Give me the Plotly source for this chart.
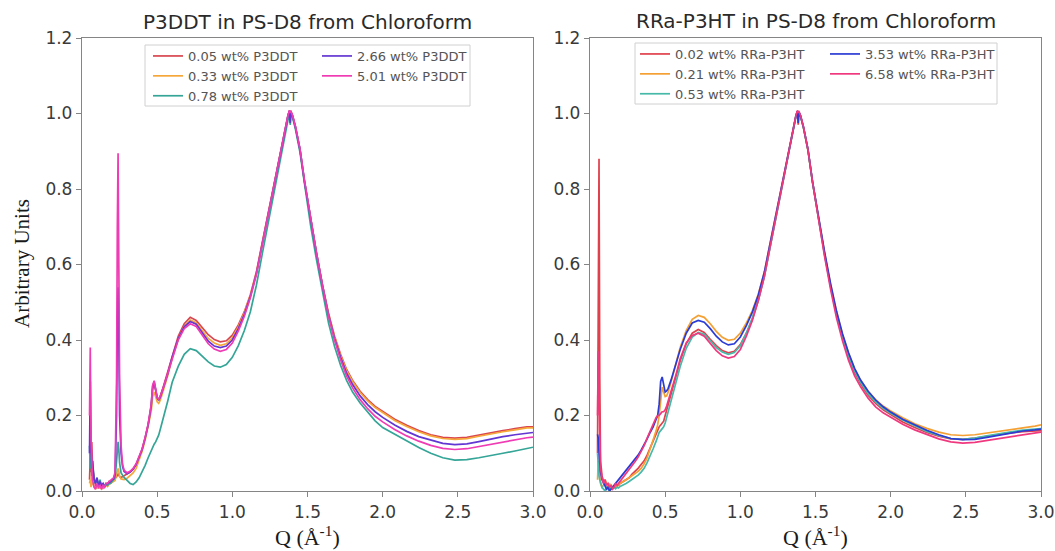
import plotly.graph_objects as go

# ---------------- data: left panel (P3DDT) ----------------
QL = [0.05, 0.055, 0.06, 0.065, 0.07,
      0.08, 0.09, 0.10, 0.11, 0.12, 0.13, 0.14, 0.15, 0.16, 0.17, 0.18, 0.19, 0.20, 0.21, 0.22,
      0.23, 0.235, 0.24, 0.245, 0.25, 0.26, 0.27, 0.28,
      0.30, 0.32, 0.34, 0.36, 0.38, 0.40, 0.42, 0.44, 0.46,
      0.47, 0.48, 0.49, 0.50, 0.51, 0.52, 0.54, 0.57, 0.60,
      0.64, 0.68, 0.72, 0.76, 0.80, 0.84, 0.88, 0.92, 0.96, 1.00,
      1.04, 1.08, 1.12, 1.16, 1.20, 1.24, 1.28, 1.32,
      1.35, 1.37, 1.38, 1.385, 1.39, 1.40, 1.42, 1.45, 1.48,
      1.52, 1.56, 1.60, 1.64, 1.68, 1.72, 1.76, 1.80,
      1.85, 1.90, 1.95, 2.00,
      2.08, 2.16, 2.24, 2.32, 2.40, 2.48, 2.56, 2.64, 2.72, 2.80, 2.88, 2.96, 3.00]

L_005 = [0.03, 0.09, 0.05, 0.13, 0.06,
         0.03, 0.015, 0.01, 0.02, 0.01, 0.015, 0.008, 0.015, 0.02, 0.018, 0.025, 0.022, 0.028, 0.03, 0.033,
         0.038, 0.042, 0.045, 0.042, 0.038, 0.036, 0.038, 0.04,
         0.045, 0.05, 0.058, 0.07, 0.088, 0.11, 0.14, 0.175, 0.22,
         0.27, 0.285, 0.268, 0.248, 0.242, 0.25, 0.275, 0.315, 0.36,
         0.41, 0.443, 0.46, 0.452, 0.432, 0.414, 0.401, 0.395, 0.398, 0.413,
         0.44, 0.475, 0.52, 0.58, 0.66, 0.74, 0.82, 0.90,
         0.955, 0.995, 1.008, 1.003, 1.005, 0.995, 0.965, 0.905, 0.82,
         0.72, 0.63, 0.545, 0.47, 0.41, 0.362, 0.322, 0.293,
         0.264, 0.242, 0.224, 0.21,
         0.19, 0.174, 0.16, 0.149, 0.142, 0.14, 0.142, 0.148, 0.155, 0.16, 0.165, 0.17, 0.17]

L_033 = [0.02, 0.03, 0.01, 0.05, 0.02,
         0.01, 0.005, 0.012, 0.008, 0.01, 0.005, 0.012, 0.01, 0.015, 0.012, 0.018, 0.02, 0.022, 0.024, 0.028,
         0.045, 0.058, 0.06, 0.052, 0.04, 0.032, 0.03, 0.03,
         0.034, 0.04, 0.048, 0.06, 0.08, 0.105, 0.135, 0.17, 0.21,
         0.25, 0.262, 0.25, 0.236, 0.232, 0.24, 0.265, 0.305, 0.352,
         0.402, 0.436, 0.453, 0.446, 0.424, 0.404, 0.392, 0.386, 0.39, 0.406,
         0.435, 0.472, 0.518, 0.578, 0.658, 0.738, 0.818, 0.898,
         0.953, 0.993, 1.006, 1.0, 1.003, 0.993, 0.963, 0.903, 0.818,
         0.718, 0.628, 0.543, 0.468, 0.408, 0.359, 0.319, 0.29,
         0.261, 0.239, 0.221, 0.207,
         0.187, 0.171, 0.157, 0.146, 0.139, 0.137, 0.139, 0.145, 0.152, 0.157, 0.162, 0.167, 0.167]

L_078 = [0.12, 0.06, 0.1, 0.04, 0.08,
         0.03, 0.02, 0.035, 0.015, 0.03, 0.01, 0.02, 0.012, 0.018, 0.015, 0.02, 0.02, 0.025, 0.028, 0.035,
         0.08, 0.12, 0.13, 0.11, 0.075, 0.048, 0.04, 0.036,
         0.028, 0.02, 0.017, 0.024, 0.035, 0.05, 0.068, 0.088, 0.108,
         0.118, 0.124, 0.13, 0.138, 0.148, 0.162, 0.19, 0.238, 0.288,
         0.33, 0.362, 0.377, 0.372, 0.357, 0.342, 0.331, 0.328, 0.335, 0.354,
         0.385, 0.425, 0.475, 0.545, 0.63, 0.715, 0.8, 0.885,
         0.948, 0.99, 1.003, 0.97, 1.0, 0.99, 0.958, 0.897, 0.81,
         0.705, 0.612, 0.523, 0.445, 0.383, 0.333, 0.293, 0.262,
         0.233, 0.208, 0.186, 0.168,
         0.15, 0.132, 0.115, 0.1, 0.088, 0.082, 0.083, 0.088, 0.095, 0.1, 0.106, 0.113, 0.116]

L_266 = [0.1, 0.29, 0.12, 0.06, 0.08,
         0.03, 0.02, 0.035, 0.01, 0.025, 0.015, 0.02, 0.01, 0.018, 0.02, 0.022, 0.025, 0.03, 0.032, 0.045,
         0.2, 0.45, 0.54, 0.4, 0.2, 0.1, 0.065, 0.052,
         0.046, 0.05, 0.058, 0.07, 0.088, 0.11, 0.14, 0.175, 0.225,
         0.278, 0.29, 0.27, 0.247, 0.24, 0.248, 0.272, 0.31, 0.355,
         0.403, 0.435, 0.449, 0.442, 0.42, 0.397, 0.384, 0.38, 0.384, 0.4,
         0.43, 0.468, 0.515, 0.576, 0.656, 0.737, 0.818, 0.898,
         0.954, 0.994, 1.007, 0.975, 1.004, 0.994, 0.964, 0.905, 0.82,
         0.72, 0.629, 0.543, 0.466, 0.404, 0.354, 0.312, 0.282,
         0.252, 0.229, 0.21, 0.195,
         0.175, 0.158, 0.144, 0.134, 0.126, 0.123, 0.125, 0.131, 0.138, 0.144, 0.149, 0.153, 0.155]

L_501 = [0.2, 0.38, 0.14, 0.05, 0.03,
         0.01, 0.005, 0.02, 0.01, 0.015, 0.005, 0.015, 0.01, 0.02, 0.02, 0.025, 0.028, 0.03, 0.035, 0.05,
         0.3, 0.7, 0.895, 0.6, 0.3, 0.12, 0.07, 0.055,
         0.048, 0.052, 0.06, 0.072, 0.09, 0.112, 0.142, 0.178, 0.228,
         0.28, 0.292, 0.27, 0.248, 0.242, 0.25, 0.273, 0.31, 0.352,
         0.4, 0.43, 0.443, 0.436, 0.413, 0.39, 0.376, 0.37, 0.375, 0.392,
         0.424, 0.463, 0.512, 0.574, 0.655, 0.737, 0.818, 0.899,
         0.955, 0.995, 1.008, 1.004, 1.005, 0.995, 0.965, 0.906, 0.822,
         0.722, 0.63, 0.543, 0.464, 0.4, 0.348, 0.305, 0.273,
         0.242, 0.218, 0.198, 0.183,
         0.163, 0.146, 0.132, 0.121, 0.113, 0.11, 0.112, 0.118, 0.125, 0.131, 0.136, 0.141, 0.143]

# ---------------- data: right panel (RRa-P3HT) ----------------
QR = [0.05, 0.055, 0.06, 0.065, 0.07,
      0.08, 0.09, 0.10, 0.11, 0.12, 0.13, 0.14, 0.15, 0.16, 0.17, 0.18, 0.19, 0.20, 0.22, 0.24,
      0.26, 0.28, 0.30, 0.32, 0.34, 0.36, 0.38, 0.40,
      0.42, 0.44, 0.45, 0.46, 0.47, 0.48, 0.49, 0.50, 0.51,
      0.52, 0.54, 0.57, 0.60, 0.64,
      0.68, 0.72, 0.76, 0.80, 0.84, 0.88, 0.92, 0.96, 1.00,
      1.04, 1.08, 1.12, 1.16, 1.20, 1.24, 1.28, 1.32,
      1.35, 1.37, 1.38, 1.385, 1.39, 1.40, 1.42, 1.45, 1.48,
      1.52, 1.56, 1.60, 1.64, 1.68, 1.72, 1.76, 1.80,
      1.85, 1.90, 1.95, 2.00,
      2.08, 2.16, 2.24, 2.32, 2.40, 2.48, 2.56, 2.64, 2.72, 2.80, 2.88, 2.96, 3.00]

R_002 = [0.1, 0.45, 0.88, 0.3, 0.08,
         0.04, 0.025, 0.02, 0.01, 0.015, 0.005, 0.01, 0.008, 0.012, 0.01, 0.015, 0.015, 0.02, 0.025, 0.03,
         0.035, 0.045, 0.052, 0.06, 0.07, 0.08, 0.095, 0.115,
         0.135, 0.155, 0.165, 0.17, 0.175, 0.18, 0.185, 0.2, 0.215,
         0.23, 0.255, 0.3, 0.345, 0.39,
         0.418, 0.428, 0.42, 0.402, 0.385, 0.372, 0.366, 0.37, 0.388,
         0.418, 0.456, 0.505, 0.568, 0.65, 0.733, 0.815, 0.897,
         0.953, 0.993, 1.006, 0.97, 1.003, 0.993, 0.963, 0.903, 0.818,
         0.718, 0.627, 0.542, 0.466, 0.405, 0.355, 0.314, 0.284,
         0.254, 0.232, 0.215, 0.202,
         0.183, 0.168, 0.155, 0.145, 0.138, 0.137, 0.14, 0.145, 0.15, 0.154, 0.157, 0.16, 0.16]

R_021 = [0.03, 0.08, 0.06, 0.04, 0.02,
         0.01, 0.015, 0.03, 0.02, 0.01, 0.02, 0.008, 0.012, 0.01, 0.015, 0.012, 0.018, 0.02, 0.025, 0.03,
         0.035, 0.04, 0.045, 0.052, 0.06, 0.072, 0.088, 0.11,
         0.135, 0.16, 0.175, 0.2, 0.25, 0.275, 0.262, 0.25, 0.252,
         0.262, 0.29, 0.335, 0.38, 0.425,
         0.455, 0.465, 0.46, 0.443, 0.423, 0.407, 0.399, 0.402, 0.418,
         0.445, 0.478, 0.522, 0.58, 0.66, 0.74, 0.82, 0.9,
         0.955, 0.995, 1.005, 1.0, 1.003, 0.994, 0.962, 0.902, 0.818,
         0.72, 0.632, 0.548, 0.474, 0.414, 0.364, 0.323, 0.293,
         0.264, 0.242, 0.225, 0.212,
         0.194, 0.178, 0.166, 0.156, 0.149, 0.147, 0.149, 0.153, 0.158, 0.163, 0.167, 0.172, 0.175]

R_053 = [0.1, 0.06, 0.04, 0.03, 0.02,
         0.01, 0.005, 0.0, 0.01, 0.005, 0.0, 0.008, 0.005, 0.01, 0.006, 0.01, 0.008, 0.012, 0.015, 0.02,
         0.025, 0.03, 0.035, 0.042, 0.05, 0.06, 0.075, 0.092,
         0.112, 0.132, 0.145, 0.155, 0.16, 0.165, 0.17, 0.18, 0.195,
         0.21, 0.24, 0.285, 0.33, 0.378,
         0.408, 0.42, 0.415, 0.398, 0.38, 0.368, 0.362, 0.367, 0.385,
         0.418, 0.458, 0.508, 0.57, 0.65, 0.732, 0.814, 0.896,
         0.953, 0.994, 1.006, 1.001, 1.004, 0.994, 0.963, 0.903, 0.818,
         0.718, 0.628, 0.543, 0.468, 0.408, 0.358, 0.318, 0.288,
         0.258, 0.236, 0.219, 0.206,
         0.188, 0.172, 0.158, 0.147, 0.139, 0.137, 0.14, 0.146, 0.152, 0.157, 0.161, 0.164, 0.165]

R_353 = [0.15, 0.14, 0.1, 0.07, 0.05,
         0.03, 0.02, 0.01, 0.005, 0.01, 0.0, 0.005, 0.01, 0.015, 0.02, 0.025, 0.03, 0.035, 0.045, 0.055,
         0.065, 0.075, 0.085, 0.095, 0.108, 0.122, 0.138, 0.155,
         0.17, 0.19, 0.2, 0.23, 0.29, 0.302, 0.28, 0.262, 0.265,
         0.272, 0.295, 0.335, 0.375, 0.418,
         0.445, 0.452, 0.447, 0.43, 0.41, 0.395, 0.387, 0.39, 0.408,
         0.438, 0.474, 0.52, 0.58, 0.66, 0.74, 0.82, 0.9,
         0.955, 0.994, 1.006, 0.975, 1.004, 0.994, 0.964, 0.905, 0.82,
         0.722, 0.634, 0.55, 0.476, 0.416, 0.366, 0.325, 0.294,
         0.264, 0.241, 0.223, 0.209,
         0.19, 0.175, 0.161, 0.149, 0.139, 0.136, 0.137, 0.142, 0.148, 0.154, 0.159, 0.162, 0.164]

R_658 = [0.2, 0.37, 0.25, 0.12, 0.06,
         0.035, 0.02, 0.03, 0.015, 0.02, 0.01, 0.015, 0.005, 0.01, 0.02, 0.015, 0.02, 0.025, 0.035, 0.045,
         0.055, 0.065, 0.078, 0.09, 0.105, 0.12, 0.14, 0.16,
         0.18, 0.195, 0.2, 0.2, 0.205, 0.21, 0.21, 0.215, 0.225,
         0.238, 0.262, 0.305, 0.35, 0.392,
         0.412, 0.418, 0.41, 0.392, 0.372, 0.358, 0.352, 0.356, 0.375,
         0.41, 0.452, 0.505, 0.57, 0.652, 0.735, 0.818, 0.9,
         0.955, 0.995, 1.008, 1.004, 1.005, 0.995, 0.965, 0.904, 0.82,
         0.715, 0.622, 0.535, 0.458, 0.397, 0.346, 0.305, 0.276,
         0.246, 0.223, 0.207, 0.195,
         0.177, 0.162, 0.149, 0.138, 0.13, 0.127, 0.129, 0.134, 0.14, 0.145, 0.15, 0.154, 0.156]

LEFT_NAMES = ["0.05 wt% P3DDT", "0.33 wt% P3DDT", "0.78 wt% P3DDT", "2.66 wt% P3DDT", "5.01 wt% P3DDT"]
RIGHT_NAMES = ["0.02 wt% RRa-P3HT", "0.21 wt% RRa-P3HT", "0.53 wt% RRa-P3HT",
               "3.53 wt% RRa-P3HT", "6.58 wt% RRa-P3HT"]
LEFT_SERIES = [L_005, L_033, L_078, L_266, L_501]
RIGHT_SERIES = [R_002, R_021, R_053, R_353, R_658]
LEFT_COLORS = ["#d9464f", "#f5a73a", "#34a597", "#6236d2", "#f03cb4"]
RIGHT_COLORS = ["#e0404c", "#f5a033", "#46b9a8", "#2b3bd4", "#f0387e"]

for s in LEFT_SERIES:
    assert len(s) == len(QL), len(s)
for s in RIGHT_SERIES:
    assert len(s) == len(QR), len(s)

W, H = 1055, 551
fig = go.Figure()

# legends: column 1 / column 2 of each panel
LEG_L = ["legend", "legend", "legend", "legend2", "legend2"]
LEG_R = ["legend3", "legend3", "legend3", "legend4", "legend4"]

for name, ys, col, lg in zip(LEFT_NAMES, LEFT_SERIES, LEFT_COLORS, LEG_L):
    fig.add_trace(go.Scatter(x=QL, y=ys, mode="lines", name=name, legend=lg,
                             line=dict(color=col, width=1.7), xaxis="x", yaxis="y"))
for name, ys, col, lg in zip(RIGHT_NAMES, RIGHT_SERIES, RIGHT_COLORS, LEG_R):
    fig.add_trace(go.Scatter(x=QR, y=ys, mode="lines", name=name, legend=lg,
                             line=dict(color=col, width=1.7), xaxis="x2", yaxis="y2"))

# plot-area geometry (pixels)
LX0, LX1 = 82, 533
RX0, RX1 = 590, 1041
YT, YB = 38, 491

tickfont = dict(family="DejaVu Sans", size=17, color="#3a3a3a")
axis_common = dict(showline=True, linecolor="#858585", linewidth=1.3, mirror=True,
                   ticks="outside", ticklen=5, tickwidth=1.2, tickcolor="#858585",
                   showgrid=False, zeroline=False, tickfont=tickfont, automargin=False,
                   range=None)

fig.update_layout(
    width=W, height=H,
    margin=dict(l=0, r=0, t=0, b=0, autoexpand=False),
    paper_bgcolor="white", plot_bgcolor="white",
    showlegend=True,
)
fig.update_layout(
    xaxis=dict(axis_common, domain=[LX0 / W, LX1 / W], range=[0, 3], dtick=0.5,
               tickformat=".1f", anchor="y"),
    yaxis=dict(axis_common, domain=[1 - YB / H, 1 - YT / H], range=[0, 1.2], dtick=0.2,
               tickformat=".1f", anchor="x"),
    xaxis2=dict(axis_common, domain=[RX0 / W, RX1 / W], range=[0, 3], dtick=0.5,
                tickformat=".1f", anchor="y2"),
    yaxis2=dict(axis_common, domain=[1 - YB / H, 1 - YT / H], range=[0, 1.2], dtick=0.2,
                tickformat=".1f", anchor="x2"),
)

legfont = dict(family="DejaVu Sans", size=13, color="#555555")
leg_common = dict(orientation="v", xanchor="left", yanchor="top", bgcolor="rgba(0,0,0,0)",
                  borderwidth=0, font=legfont, itemwidth=30, tracegroupgap=0,
                  xref="paper", yref="paper")
fig.update_layout(
    legend=dict(x=148 / W, y=1 - 41 / H, **leg_common),
    legend2=dict(x=317 / W, y=1 - 41 / H, **leg_common),
    legend3=dict(x=635 / W, y=1 - 39 / H, **leg_common),
    legend4=dict(x=825 / W, y=1 - 39 / H, **leg_common),
)

# legend frames
for x0, x1, y0, y1 in [(145, 470, 45, 106), (635, 997, 43, 104)]:
    fig.add_shape(type="rect", xref="paper", yref="paper",
                  x0=x0 / W, x1=x1 / W, y0=1 - y1 / H, y1=1 - y0 / H,
                  line=dict(color="#d0d0d0", width=1), fillcolor="rgba(255,255,255,0.85)",
                  layer="above")

# panel titles
titlefont = dict(family="DejaVu Sans", size=20, color="#2a2a2a")
fig.add_annotation(text="P3DDT in PS-D8 from Chloroform", xref="paper", yref="paper",
                   x=(LX0 + LX1) / 2 / W, y=1 - 22 / H, showarrow=False, font=titlefont,
                   xanchor="center", yanchor="middle")
fig.add_annotation(text="RRa-P3HT in PS-D8 from Chloroform", xref="paper", yref="paper",
                   x=(RX0 + RX1) / 2 / W, y=1 - 21 / H, showarrow=False, font=titlefont,
                   xanchor="center", yanchor="middle")

# axis titles
serif = dict(family="Liberation Serif", size=22, color="#1a1a1a")
fig.add_annotation(text="Arbitrary Units", xref="paper", yref="paper", x=22 / W, y=1 - 264 / H,
                   textangle=-90, showarrow=False, font=dict(serif, size=21),
                   xanchor="center", yanchor="middle")
for cx in [(LX0 + LX1) / 2, (RX0 + RX1) / 2]:
    fig.add_annotation(text="Q (Å<sup>-1</sup>)", xref="paper", yref="paper", x=cx / W,
                       y=1 - 536 / H, showarrow=False, font=serif,
                       xanchor="center", yanchor="middle")

fig.write_html("out.html")
